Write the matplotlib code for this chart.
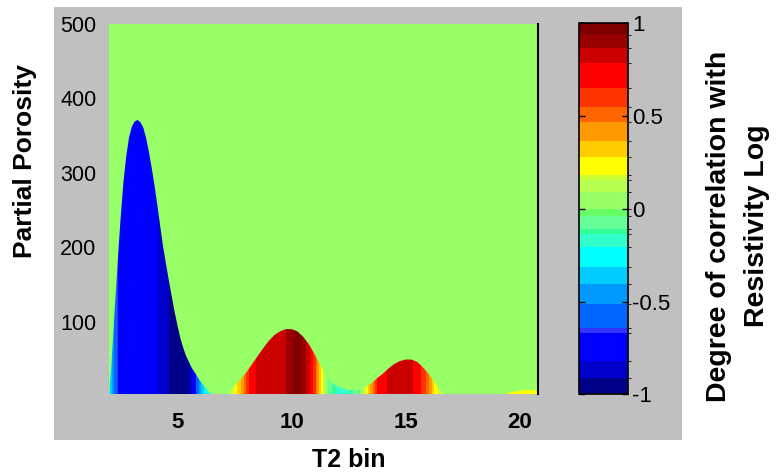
import numpy as np
import matplotlib
matplotlib.use("Agg")
import matplotlib.pyplot as plt
from matplotlib.colors import ListedColormap, BoundaryNorm
from matplotlib.patches import Polygon, Rectangle

plt.rcParams['font.family'] = ['Liberation Sans', 'DejaVu Sans']
plt.rcParams['axes.unicode_minus'] = False

# ---------------- data ----------------
# correlation with resistivity log, sampled along the T2 axis
t2_bin = [2.00, 2.25, 2.50, 2.75, 3.00, 3.25, 3.50, 3.75, 4.00, 4.25, 4.50, 4.75,
          5.00, 5.25, 5.50, 5.75, 6.00, 6.25, 6.50, 6.75, 7.00, 7.25, 7.50, 7.75,
          8.00, 8.25, 8.50, 8.75, 9.00, 9.25, 9.50, 9.75, 10.00, 10.25, 10.50, 10.75,
          11.00, 11.25, 11.50, 11.75, 12.00, 12.25, 12.50, 12.75, 13.00, 13.25, 13.50, 13.75,
          14.00, 14.25, 14.50, 14.75, 15.00, 15.25, 15.50, 15.75, 16.00, 16.25, 16.50, 16.75,
          17.00, 17.25, 17.50, 17.75, 18.00, 18.25, 18.50, 18.75, 19.00, 19.25, 19.50, 19.75,
          20.00, 20.25, 20.50, 20.75]

correlation = [-0.25, -0.55, -0.74, -0.75, -0.75, -0.75, -0.75, -0.76, -0.79, -0.85, -0.88, -0.94,
               -0.96, -0.96, -0.93, -0.75, -0.42, -0.25, -0.08, 0.02, 0.04, 0.08, 0.20, 0.35,
               0.55, 0.72, 0.80, 0.83, 0.83, 0.83, 0.84, 0.86, 0.92, 0.96, 0.92, 0.82,
               0.62, 0.30, 0.05, -0.10, -0.15, -0.17, -0.15, -0.10, 0.00, 0.18, 0.40, 0.65,
               0.75, 0.80, 0.82, 0.83, 0.82, 0.80, 0.75, 0.62, 0.50, 0.28, 0.15, 0.05,
               0.02, 0.02, 0.02, 0.02, 0.02, 0.02, 0.03, 0.05, 0.08, 0.12, 0.20, 0.22,
               0.22, 0.22, 0.20, 0.18]

# partial porosity curve (finer sampling on the first peak)
porosity_t2 = [2.000, 2.125, 2.250, 2.375, 2.500, 2.625, 2.750, 2.875, 3.000, 3.125,
               3.250, 3.375, 3.500, 3.625, 3.750, 3.875, 4.000, 4.125, 4.250, 4.375,
               4.500, 4.625, 4.750, 4.875, 5.000, 5.125, 5.250, 5.375, 5.500, 5.625,
               5.750, 5.875, 6.000, 6.125, 6.250, 6.375, 6.500,
               6.75, 7.00, 7.25, 7.50, 7.75,
               8.00, 8.25, 8.50, 8.75, 9.00, 9.25, 9.50, 9.75, 10.00, 10.25, 10.50, 10.75,
               11.00, 11.25, 11.50, 11.75, 12.00, 12.25, 12.50, 12.75, 13.00, 13.25, 13.50, 13.75,
               14.00, 14.25, 14.50, 14.75, 15.00, 15.25, 15.50, 15.75, 16.00, 16.25, 16.50, 16.75,
               17.00, 17.25, 17.50, 17.75, 18.00, 18.25, 18.50, 18.75, 19.00, 19.25, 19.50, 19.75,
               20.00, 20.25, 20.50, 20.75]

partial_porosity = [0, 52, 116, 178, 235, 285, 321, 347, 362, 369,
                    371, 368, 361, 347, 328, 306, 282, 255, 227, 200,
                    177, 155, 134, 113, 95, 78, 65, 54, 46, 38,
                    32, 26, 20, 15, 10, 6, 3,
                    1, 2, 6, 13, 22,
                    31, 42, 53, 64, 74, 82, 87, 90, 90, 87, 80, 70,
                    57, 42, 27, 18, 13, 10, 8, 8, 9, 12, 17, 24,
                    30, 37, 43, 47, 49, 49, 46, 39, 30, 19, 8, 3,
                    1, 1, 1, 1, 1, 1, 1, 1, 1, 2, 4, 6,
                    7, 8, 8, 8]

x_ticks = [5, 10, 15, 20]
y_ticks = [100, 200, 300, 400, 500]
cbar_ticks = [-1, -0.5, 0, 0.5, 1]
cbar_ticklabels = ['-1', '-0.5', '0', '0.5', '1']

# palette-reduced jet colour bands (bottom to top)
band_edges = [-1.0, -0.911, -0.821, -0.668, -0.641, -0.515, -0.405, -0.315, -0.208,
              -0.136, -0.109, -0.037, -0.001, 0.091, 0.154, 0.181, 0.279, 0.364,
              0.468, 0.550, 0.650, 0.784, 0.865, 0.937, 1.0]
band_colors = ['#000088', '#0000CC', '#0000FF', '#3333FF', '#0066FF', '#0099FF',
               '#00CCFF', '#00FFFF', '#33FFCC', '#33FF99', '#66FF99', '#66FF66',
               '#99FF66', '#B8FF50', '#CCFF33', '#FFFF00', '#FFCC00', '#FF9900',
               '#FF6600', '#FF3300', '#FF0000', '#CC0000', '#990000', '#800000']

cmap = ListedColormap(band_colors)
norm = BoundaryNorm(band_edges, cmap.N)

# ---------------- figure ----------------
W, H = 778, 474
fig = plt.figure(figsize=(W / 100, H / 100), dpi=100, facecolor='white')
fig.patches.append(Rectangle((54 / W, 1 - 440 / H), (682 - 54) / W, (440 - 7) / H,
                             transform=fig.transFigure, facecolor='#C0C0C0',
                             edgecolor='none', zorder=-10))

ax = fig.add_axes([109 / W, 1 - 394 / H, (538 - 109) / W, (394 - 24) / H])
ax.set_facecolor(cmap(norm(0.0)))

x = np.array(t2_bin)
dx = x[1] - x[0]
ylo, yhi = 2.7, 500
img = np.array(correlation)[np.newaxis, :]
im = ax.imshow(img, cmap=cmap, norm=norm, aspect='auto', origin='lower',
               extent=[x[0] - dx / 2, x[-1] + dx / 2, 0, yhi],
               interpolation='bilinear', interpolation_stage='data')
verts = ([(porosity_t2[0], 0)] + list(zip(porosity_t2, partial_porosity))
         + [(porosity_t2[-1], 0)])
clip = Polygon(verts, closed=True, facecolor='none', edgecolor='none',
               transform=ax.transData)
ax.add_patch(clip)
im.set_clip_path(clip)

ax.set_xlim(2.0, 20.8)
ax.set_ylim(ylo, yhi)
ax.set_xticks(x_ticks)
ax.set_xticklabels([str(v) for v in x_ticks], fontsize=16, fontweight='bold')
ax.set_yticks(y_ticks)
ax.set_yticklabels([str(v) for v in y_ticks], fontsize=15.5)
ax.tick_params(axis='both', length=0)
ax.tick_params(axis='x', pad=13)
ax.tick_params(axis='y', pad=9)
for s in ['left', 'top', 'bottom']:
    ax.spines[s].set_visible(False)
ax.spines['right'].set_color('black')
ax.spines['right'].set_linewidth(1.5)

fig.text(25 / W, 1 - 161 / H, 'Partial Porosity', rotation=90, ha='center', va='center',
         fontsize=19, fontweight='bold')
fig.text(349 / W, 1 - 460 / H, 'T2 bin', ha='center', va='center',
         fontsize=18, fontweight='bold')

# ---------------- colorbar ----------------
cax = fig.add_axes([579 / W, 1 - 394.3 / H, (628 - 579) / W, (394.3 - 23.3) / H])
cb = fig.colorbar(im, cax=cax, spacing='proportional', ticks=cbar_ticks)
cb.ax.set_yticklabels(cbar_ticklabels, fontsize=16)
cb.ax.tick_params(axis='y', direction='in', length=4, width=1, left=True, right=True,
                  pad=3, color='black')
cb.outline.set_edgecolor('black')
cb.outline.set_linewidth(1.2)

fig.text(738 / W, 1 - 226 / H, 'Degree of correlation with\nResistivity Log', rotation=90,
         ha='center', va='center', multialignment='center', fontsize=20.5,
         fontweight='bold', linespacing=1.6)

fig.savefig('out.png', dpi=100, facecolor='white')
